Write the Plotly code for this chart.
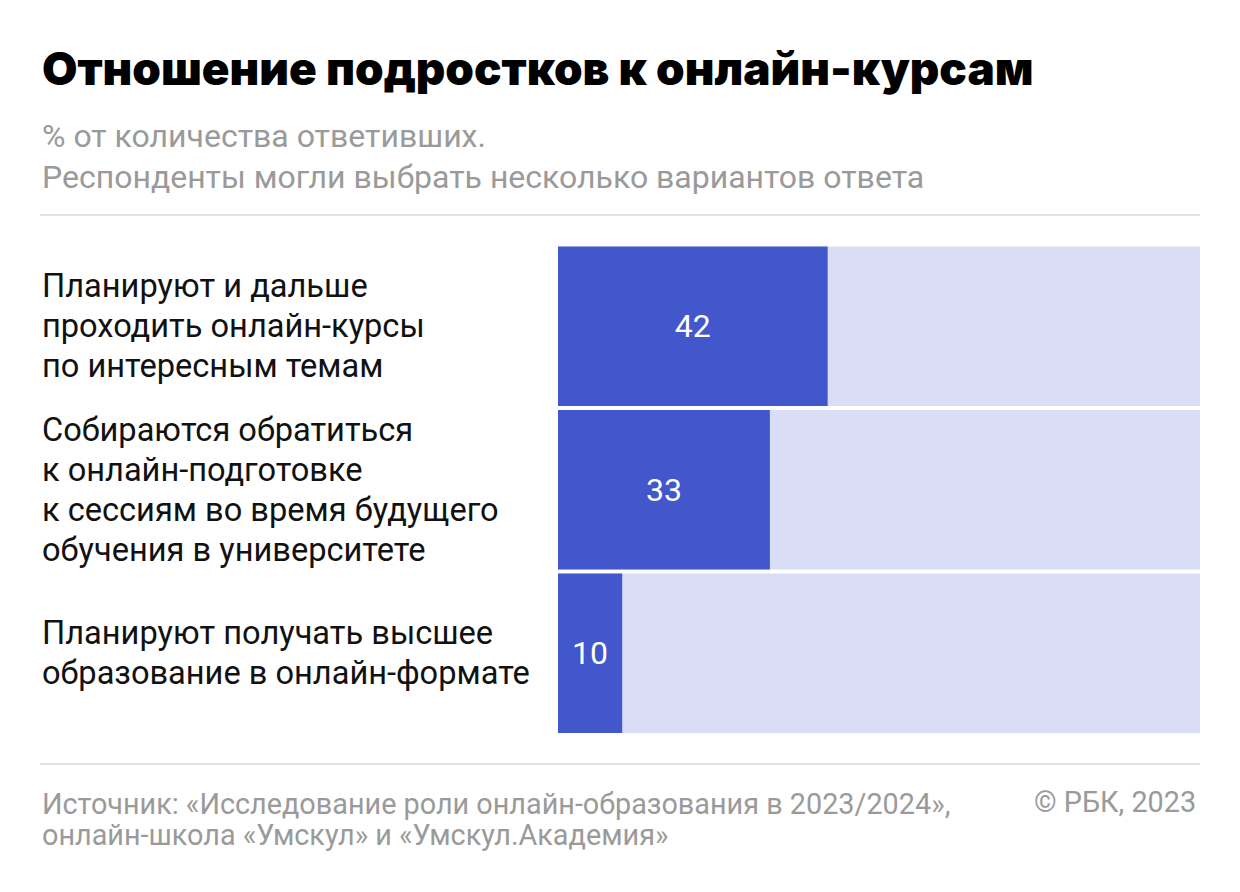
import plotly.graph_objects as go

categories = [
    "Планируют и дальше<br>проходить онлайн-курсы<br>по интересным темам",
    "Собираются обратиться<br>к онлайн-подготовке<br>к сессиям во время будущего<br>обучения в университете",
    "Планируют получать высшее<br>образование в онлайн-формате",
]
values = [42, 33, 10]
full = [100, 100, 100]

title = "Отношение подростков к онлайн-курсам"
subtitle_lines = ["% от количества ответивших.", "Респонденты могли выбрать несколько вариантов ответа"]
source_lines = ["Источник: «Исследование роли онлайн-образования в 2023/2024»,",
                "онлайн-школа «Умскул» и «Умскул.Академия»"]
copyright_text = "© РБК, 2023"

W, H = 1240, 892
BAR = "#4157CB"
BG = "#DADDF6"
GRAY = "#9a9a9a"
FONT = "Roboto"

ids = list(range(len(categories)))

fig = go.Figure()
fig.add_trace(go.Bar(x=full, y=ids, orientation="h", marker=dict(color=BG, line_width=0),
                     hoverinfo="skip", showlegend=False))
fig.add_trace(go.Bar(x=values, y=ids, orientation="h", marker=dict(color=BAR, line_width=0),
                     text=[str(v) for v in values], textposition="inside", insidetextanchor="middle",
                     textfont=dict(color="white", size=32, family=FONT), showlegend=False))

def px(x):
    return x / W

def py(y):
    return 1 - y / H

annotations = []
annotations.append(dict(text=title, x=px(40), y=py(68), xref="paper", yref="paper",
                        xanchor="left", yanchor="middle", showarrow=False,
                        font=dict(family="Inter", size=45.8, color="#000", weight=900)))
for i, line in enumerate(subtitle_lines):
    annotations.append(dict(text=line, x=px(40), y=py(136 + 41 * i), xref="paper", yref="paper",
                            xanchor="left", yanchor="middle", showarrow=False,
                            font=dict(family=FONT, size=32, color=GRAY)))
LINE = 40
for i, c in enumerate(categories):
    lines = c.split("<br>")
    n = len(lines)
    for j, ln in enumerate(lines):
        annotations.append(dict(text=ln, x=px(40), y=i, xref="paper", yref="y",
                                xanchor="left", yanchor="middle", align="left", showarrow=False,
                                yshift=((n - 1) / 2 - j) * LINE,
                                font=dict(family=FONT, size=32.6, color="#111")))
for i, line in enumerate(source_lines):
    annotations.append(dict(text=line, x=px(40), y=py(804 + 31 * i), xref="paper", yref="paper",
                            xanchor="left", yanchor="middle", showarrow=False,
                            font=dict(family=FONT, size=28.8, color=GRAY)))
annotations.append(dict(text=copyright_text, x=px(1198), y=py(802), xref="paper", yref="paper",
                        xanchor="right", yanchor="middle", showarrow=False,
                        font=dict(family=FONT, size=28.8, color=GRAY)))

shapes = [
    dict(type="line", xref="paper", yref="paper", x0=px(40), x1=px(1200), y0=py(215), y1=py(215),
         line=dict(color="#e3e3e3", width=2)),
    dict(type="line", xref="paper", yref="paper", x0=px(40), x1=px(1200), y0=py(764), y1=py(764),
         line=dict(color="#e3e3e3", width=2)),
]

fig.update_layout(
    width=W, height=H, margin=dict(l=0, r=0, t=0, b=0),
    paper_bgcolor="white", plot_bgcolor="white",
    barmode="overlay", bargap=0.025,
    xaxis=dict(domain=[px(558), px(1200)], range=[0, 100], visible=False, fixedrange=True),
    yaxis=dict(domain=[py(735), py(244.5)], range=[2.5, -0.5], visible=False, fixedrange=True),
    annotations=annotations, shapes=shapes,
    uniformtext=dict(mode="show", minsize=10),
)

fig.write_html("out.html", config={"displayModeBar": False},
               post_script="document.body.style.margin='0';document.body.style.padding='0';")
